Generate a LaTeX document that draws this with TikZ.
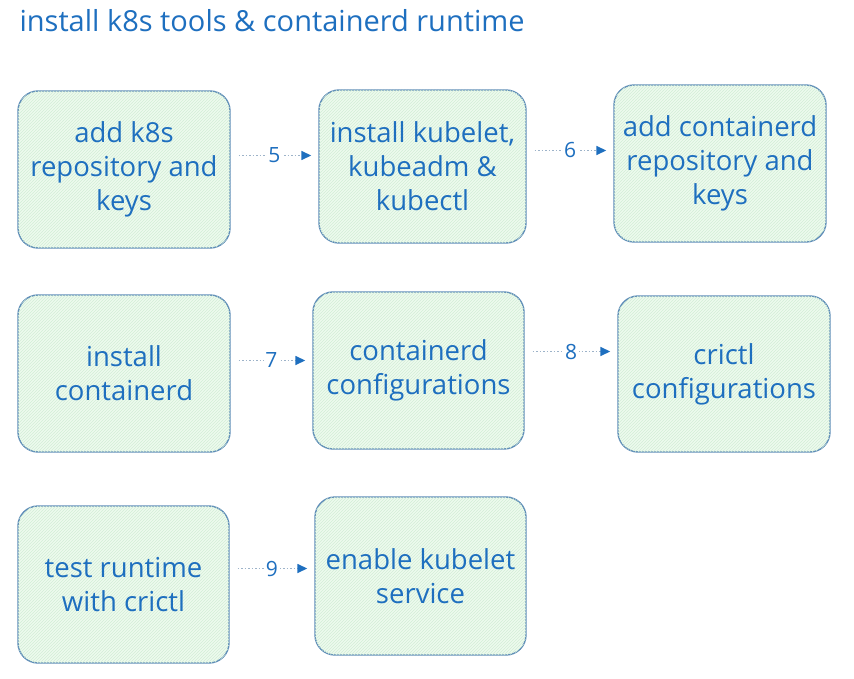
\documentclass[tikz,border=0pt]{standalone}
\usepackage{fontspec}
\setmainfont{Open Sans}
\usepackage{tikz}
\usetikzlibrary{patterns,arrows.meta}
\usepackage{xcolor}
\definecolor{inkblue}{HTML}{1E6FBF}
\definecolor{boxline}{HTML}{5F8DB8}
\definecolor{boxfill}{HTML}{EEFAEE}
\definecolor{hatch}{HTML}{D2EED6}
\definecolor{dotline}{HTML}{9DB3C9}

\tikzset{
  stepbox/.style={draw=boxline, line width=1.4pt, rounded corners=20pt, fill=boxfill,
    postaction={pattern=north east lines, pattern color=hatch},
    align=center, text=inkblue, font=\fontsize{27.5}{34}\selectfont, inner sep=2pt},
  link/.style={dotline, line width=1.5pt, dotted, -{Triangle[length=10pt,width=9pt,fill=inkblue,color=inkblue]}},
  linklabel/.style={fill=white, text=inkblue, font=\fontsize{21}{21}\selectfont, inner sep=1.5pt}
}

\begin{document}
\begin{tikzpicture}[x=1pt, y=-1pt]
\useasboundingbox (0,0) rectangle (854,679);
\node[anchor=west, text=inkblue, font=\fontsize{29}{29}\selectfont] (title) at (16,21) {install k8s tools \& containerd runtime};

% first row
\node[stepbox, minimum width=212pt, minimum height=157pt] (b1) at (124,169.5) {add k8s\\repository and\\keys};
\node[stepbox, minimum width=207pt, minimum height=153pt] (b2) at (422.5,166.5) {install kubelet,\\kubeadm \&\\kubectl};
\node[stepbox, minimum width=212pt, minimum height=157pt] (b3) at (720,163.5) {add containerd\\repository and\\keys};
% second row
\node[stepbox, minimum width=212pt, minimum height=157pt] (b4) at (124,373.5) {install\\containerd};
\node[stepbox, minimum width=211pt, minimum height=157pt] (b5) at (418.5,370.5) {containerd\\configurations};
\node[stepbox, minimum width=212pt, minimum height=156pt] (b6) at (724,374) {crictl\\configurations};
% third row
\node[stepbox, minimum width=211pt, minimum height=157pt] (b7) at (123.5,584.5) {test runtime\\with crictl};
\node[stepbox, minimum width=211pt, minimum height=158pt] (b8) at (420.5,576) {enable kubelet\\service};

\draw[link, shorten <=8pt, shorten >=7pt] ([yshift=14pt]b1.east) -- ([yshift=14pt]b1.east -| b2.west) node[linklabel, midway] {5};
\draw[link, shorten <=8pt, shorten >=7pt] ([yshift=16pt]b2.east) -- ([yshift=16pt]b2.east -| b3.west) node[linklabel, midway] {6};
\draw[link, shorten <=8pt, shorten >=7pt] ([yshift=13pt]b4.east) -- ([yshift=13pt]b4.east -| b5.west) node[linklabel, midway] {7};
\draw[link, shorten <=8pt, shorten >=7pt] ([yshift=19pt]b5.east) -- ([yshift=19pt]b5.east -| b6.west) node[linklabel, midway] {8};
\draw[link, shorten <=8pt, shorten >=7pt] ([yshift=16pt]b7.east) -- ([yshift=16pt]b7.east -| b8.west) node[linklabel, midway] {9};
\end{tikzpicture}
\end{document}
